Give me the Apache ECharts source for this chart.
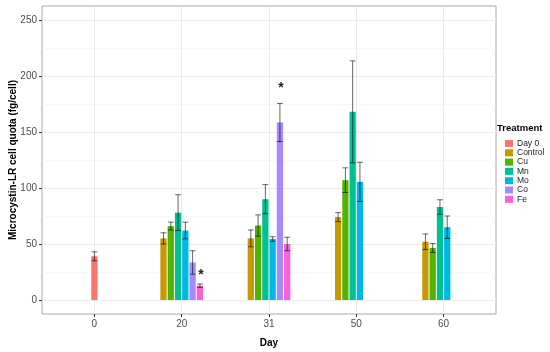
<!DOCTYPE html>
<html><head><meta charset="utf-8">
<script src="https://cdn.jsdelivr.net/npm/echarts@6/dist/echarts.min.js"></script>
<style>html,body{margin:0;padding:0;background:#fff}#c{width:550px;height:352px}</style>
</head><body><div id="c"></div>
<script>
// ---- data ----
const days = ['0', '20', '31', '50', '60'];
const treatments = ['Day 0', 'Control', 'Cu', 'Mn', 'Mo', 'Co', 'Fe'];
const colors = ['#F8766D', '#C49A00', '#53B400', '#00C094', '#00B6EB', '#A58AFF', '#FB61D7'];
// mean MC-LR cell quota (fg/cell) per day index; null = not measured
const meanDay0    = [39, null, null, null, null];
const meanControl = [null, 55, 55, 74, 52];
const meanCu      = [null, 66, 66.5, 107, 46.5];
const meanMn      = [null, 78, 90, 168, 83];
const meanMo      = [null, 62, 54.5, 105.5, 65];
const meanCo      = [null, 33.5, 158.5, null, null];
const meanFe      = [null, 12.8, 50, null, null];
// standard error
const seDay0    = [4, null, null, null, null];
const seControl = [null, 5, 7.5, 4, 7];
const seCu      = [null, 3.5, 9.5, 11, 4];
const seMn      = [null, 16, 13, 45.5, 6.5];
const seMo      = [null, 7.5, 2, 17.5, 10];
const seCo      = [null, 10.5, 17, null, null];
const seFe      = [null, 1.5, 6, null, null];
// significance markers: [day index, treatment, y position]
const sigMarks = [[1, 'Fe', 22.5], [2, 'Co', 189]];
const yTicks = [0, 50, 100, 150, 200, 250];
const yMinor = [25, 75, 125, 175, 225];
const xTicks = [0, 1, 2, 3, 4];

const means = [meanDay0, meanControl, meanCu, meanMn, meanMo, meanCo, meanFe];
const ses = [seDay0, seControl, seCu, seMn, seMo, seCo, seFe];

const DODGE = 0.5;          // total dodge width (category units)
const NSLOT = 6;
const BARU = DODGE / NSLOT; // width of one bar slot

function offsetOf(tIdx) {
  if (tIdx === 0) return 0; // Day 0 group stands alone
  return (tIdx - 1 - (NSLOT - 1) / 2) * BARU;
}

function makeRender(tIdx) {
  const color = colors[tIdx];
  const off = offsetOf(tIdx);
  return function (params, api) {
    const cat = api.value(0), v = api.value(1), se = api.value(2);
    const unit = api.size([1, 0])[0];
    const slotW = unit * BARU;
    const base = api.coord([cat + off, 0]);
    const top = api.coord([cat + off, v]);
    const hi = api.coord([cat + off, v + se]);
    const lo = api.coord([cat + off, v - se]);
    const bw = slotW - 1;
    const cap = slotW * 0.8;
    const lineStyle = { stroke: 'rgba(0,0,0,0.6)', lineWidth: 1 };
    return {
      type: 'group',
      children: [
        { type: 'rect', shape: { x: base[0] - bw / 2, y: top[1], width: bw, height: base[1] - top[1] },
          style: { fill: color } },
        { type: 'line', shape: { x1: hi[0], y1: hi[1], x2: lo[0], y2: lo[1] }, style: lineStyle },
        { type: 'line', shape: { x1: hi[0] - cap / 2, y1: hi[1], x2: hi[0] + cap / 2, y2: hi[1] }, style: lineStyle },
        { type: 'line', shape: { x1: lo[0] - cap / 2, y1: lo[1], x2: lo[0] + cap / 2, y2: lo[1] }, style: lineStyle }
      ]
    };
  };
}

const series = treatments.map(function (name, t) {
  const data = [];
  means[t].forEach(function (m, d) { if (m !== null) data.push([d, m, ses[t][d]]); });
  return {
    name: name, type: 'custom', renderItem: makeRender(t),
    itemStyle: { color: colors[t] }, encode: { x: 0, y: 1 }, data: data, z: 2
  };
});

series.push({
  type: 'custom', name: 'sig', z: 3,
  renderItem: function (params, api) {
    const t = treatments.indexOf(sigMarks[params.dataIndex][1]);
    const p = api.coord([api.value(0) + offsetOf(t), api.value(1)]);
    return { type: 'text', x: p[0] + 1, y: p[1],
      style: { text: '*', fill: '#222', font: 'bold 14px "Liberation Sans", Arial', align: 'center', verticalAlign: 'middle' } };
  },
  encode: { x: 0, y: 1 },
  data: sigMarks.map(function (s) { return [s[0], s[2]]; })
});

const grey = '#4D4D4D';
const option = {
  animation: false,
  textStyle: { fontFamily: '"Liberation Sans", Arial, sans-serif' },
  title: { text: 'Treatment', left: 497, top: 123, padding: 0,
    textStyle: { fontSize: 9.5, fontWeight: 'bold', color: '#000' } },
  legend: {
    data: treatments, orient: 'vertical', left: 505, top: 139, padding: 0,
    icon: 'rect', itemWidth: 8, itemHeight: 7, itemGap: 0.3,
    textStyle: { fontSize: 8.5, color: '#1A1A1A', lineHeight: 8, padding: [0, 0, 0, -1] },
    selectedMode: false
  },
  grid: { left: 42, right: 54, top: 6, bottom: 38, show: true, borderColor: '#A8A8A8', borderWidth: 1,
    containLabel: false, outerBoundsMode: 'none' },
  xAxis: [{
    type: 'value', min: -0.6, max: 4.6,
    name: 'Day', nameLocation: 'middle', nameGap: 24, nameMoveOverlap: false,
    nameTextStyle: { fontSize: 10, fontWeight: 'bold', color: '#000' },
    axisLine: { show: false, onZero: false },
    axisTick: { show: true, length: 3, customValues: xTicks, lineStyle: { color: '#333' } },
    axisLabel: { customValues: xTicks, fontSize: 10, color: grey, margin: 5,
      formatter: function (v) { return days[Math.round(v)]; } },
    splitLine: { show: true, lineStyle: { color: '#EBEBEB', width: 1 } }
  }],
  yAxis: [{
    type: 'value', min: -12.5, max: 262.5,
    name: 'Microcystin-LR cell quota (fg/cell)', nameLocation: 'middle', nameGap: 24, nameMoveOverlap: false,
    nameTextStyle: { fontSize: 10, fontWeight: 'bold', color: '#000' },
    axisLine: { show: false, onZero: false },
    axisTick: { show: true, length: 3, customValues: yTicks, lineStyle: { color: '#333' } },
    axisLabel: { customValues: yTicks, fontSize: 10, color: grey, margin: 5 },
    splitLine: { show: true, lineStyle: { color: '#EBEBEB', width: 1 } }
  }, {
    type: 'value', min: -12.5, max: 262.5, position: 'left',
    axisLine: { show: false, onZero: false },
    axisTick: { show: false, customValues: yMinor },
    axisLabel: { show: false, customValues: yMinor },
    splitLine: { show: true, lineStyle: { color: '#F4F4F4', width: 0.6 } }
  }],
  series: series
};
const chart = echarts.init(document.getElementById('c'), null, { renderer: 'canvas' });
chart.setOption(option);
</script>
</body></html>
